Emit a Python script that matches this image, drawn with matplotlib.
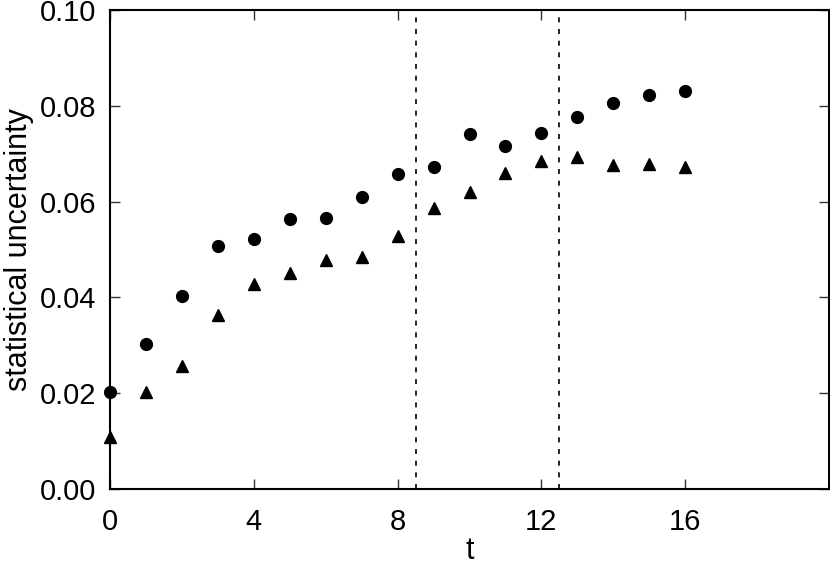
import matplotlib
matplotlib.use("Agg")
import matplotlib.pyplot as plt

# values
t = list(range(17))
circles = [0.0203, 0.0303, 0.0402, 0.0508, 0.0521, 0.0564, 0.0566, 0.0609,
           0.0658, 0.0673, 0.0741, 0.0717, 0.0744, 0.0776, 0.0806, 0.0822, 0.0831]
triangles = [0.0109, 0.0203, 0.0257, 0.0363, 0.0427, 0.0451, 0.0478, 0.0484,
             0.0528, 0.0587, 0.0619, 0.0660, 0.0685, 0.0694, 0.0677, 0.0679, 0.0672]
vlines = [8.5, 12.5]
xticks = [0, 4, 8, 12, 16]
yticks = [0.00, 0.02, 0.04, 0.06, 0.08, 0.10]

plt.rcParams["font.family"] = ["Liberation Sans", "DejaVu Sans"]

fig = plt.figure(figsize=(8.3, 5.67), dpi=100)
ax = fig.add_axes([110 / 830, 78 / 567, 719 / 830, 479 / 567])

ax.plot(t, circles, "o", color="black", markersize=8.5, clip_on=False, zorder=3)
ax.plot(t, triangles, "^", color="black", markersize=8.5, clip_on=False, zorder=3)
for x in vlines:
    ax.axvline(x, color="black", linestyle=(0, (3, 4)), linewidth=1.2)

ax.set_xlim(0, 20)
ax.set_ylim(0, 0.10)
ax.set_xticks(xticks)
ax.set_yticks(yticks)
ax.set_yticklabels([f"{v:.2f}" for v in yticks])
ax.tick_params(direction="in", top=True, right=True, length=7, width=1,
               labelsize=21, color="#333333")
ax.tick_params(axis="x", pad=14)
ax.tick_params(axis="y", pad=10)
for s in ax.spines.values():
    s.set_linewidth(1.5)

ax.set_xlabel("t", fontsize=22, labelpad=0)
ax.set_ylabel("statistical uncertainty", fontsize=22, labelpad=4)

fig.savefig("out.png", dpi=100)
